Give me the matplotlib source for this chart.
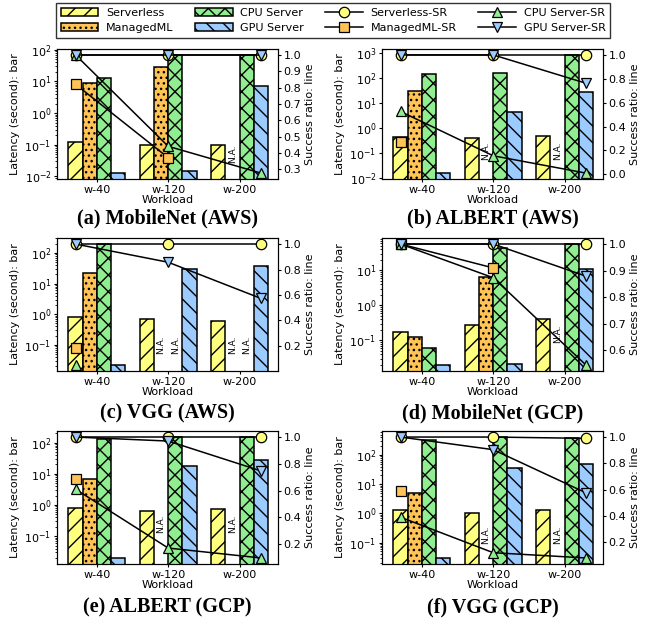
import numpy as np
import matplotlib
matplotlib.use('Agg')
import matplotlib.pyplot as plt
from matplotlib.patches import Patch
from matplotlib.lines import Line2D
from matplotlib.ticker import LogLocator, MultipleLocator

nan = np.nan

#%% data (latency in seconds, success ratio 0..1)
workloads = ['w-40', 'w-120', 'w-200']
titles = ['(a) MobileNet (AWS)', '(b) ALBERT (AWS)', '(c) VGG (AWS)',
          '(d) MobileNet (GCP)', '(e) ALBERT (GCP)', '(f) VGG (GCP)']
bar_names = ['Serverless', 'ManagedML', 'CPU Server', 'GPU Server']
sr_names = ['Serverless-SR', 'ManagedML-SR', 'CPU Server-SR', 'GPU Server-SR']

serverless = [[0.12, 0.10, 0.098], [0.46, 0.41, 0.49], [0.81, 0.68, 0.60],
              [0.18, 0.27, 0.41], [0.80, 0.66, 0.74], [1.32, 1.06, 1.28]]
managedml = [[8.9, 28, nan], [29.5, nan, nan], [22, nan, nan],
             [0.124, 6.7, nan], [6.8, nan, nan], [5.1, nan, nan]]
cpu = [[12.7, 69, 69], [150, 162, 850], [196, nan, nan],
       [0.062, 45, 57], [128, 150, 150], [318, 413, 372]]
gpu = [[0.0127, 0.0144, 7.3], [0.016, 4.3, 27.5], [0.022, 29, 39],
       [0.020, 0.022, 11], [0.020, 18, 28], [0.030, 37, 50]]

serverless_sr = [[1, 1, 1], [1, 1, 1], [1, 1, 1],
                 [1, 1, 1], [1, 1, 1], [1, 1, 0.99]]
managedml_sr = [[0.82, 0.37, nan], [0.27, nan, nan], [0.18, nan, nan],
                [1.0, 0.91, nan], [0.685, nan, nan], [0.59, nan, nan]]
cpu_sr = [[1.0, 0.44, 0.276], [0.526, 0.155, 0.01], [0.05, nan, nan],
          [1.0, 0.873, 0.544], [0.61, 0.17, 0.096], [0.39, 0.12, 0.08]]
gpu_sr = [[1, 1, 1], [1, 1, 0.763], [1.0, 0.857, 0.573],
          [1, 1, 0.879], [1.0, 0.97, 0.747], [1.0, 0.904, 0.576]]

# height where the "N.A." labels start in each panel
na_y = [0.026, 0.052, 0.05, 0.085, 0.13, 0.087]

#%% styles
colors = ['#ffff80', '#ffc455', '#90ee90', '#9ccbff']
hatches = ['//', '...', 'xx', '\\\\']
markers = ['o', 's', '^', 'v']
bar_w = 0.2
bar_off = [-0.3, -0.1, 0.1, 0.3]
line_off = [-0.3, 0.0, 0.3]
sr_step = [0.1, 0.2, 0.2, 0.1, 0.2, 0.2]

W, H = 652, 619
fig = plt.figure(figsize=(W / 100, H / 100), dpi=100)

cols = [(57, 278), (382, 603)]
rows = [(49, 179), (238, 371), (431, 564)]
title_y = [218, 413, 607]

bars_all = [serverless, managedml, cpu, gpu]
srs_all = [serverless_sr, managedml_sr, cpu_sr, gpu_sr]

x = np.arange(len(workloads))
for k in range(6):
    r, c = k // 2, k % 2
    x0, x1 = cols[c]
    y0, y1 = rows[r]
    ax = fig.add_axes([x0 / W, 1 - y1 / H, (x1 - x0) / W, (y1 - y0) / H])
    for j in range(4):
        vals = np.array(bars_all[j][k], dtype=float)
        ax.bar(x + bar_off[j], vals, bar_w, color=colors[j], hatch=hatches[j],
               edgecolor='black', linewidth=1.1)
        for i in range(3):
            if np.isnan(vals[i]):
                ax.text(x[i] + bar_off[j], na_y[k], 'N.A.', rotation=90,
                        ha='center', va='bottom', fontsize=6.5)
    ax.set_yscale('log')
    ax.yaxis.set_major_locator(LogLocator(base=10, numticks=20))
    ax.set_xticks(x)
    ax.set_xticklabels(workloads)
    ax.set_xlim(-0.56, 2.54)
    ax.set_xlabel('Workload', fontsize=8, labelpad=0.5)
    ax.set_ylabel('Latency (second): bar', fontsize=8, labelpad=3)
    ax.tick_params(axis='both', which='major', labelsize=8, length=2.5, pad=1.5)
    ax.tick_params(axis='y', which='minor', length=1.5)

    ax2 = ax.twinx()
    lx = x + np.array(line_off)
    for j in range(4):
        ax2.plot(lx, srs_all[j][k], color='black', linewidth=1.1,
                 marker=markers[j], markersize=7.5, markerfacecolor=colors[j],
                 markeredgecolor='black', markeredgewidth=0.9)
    ax2.yaxis.set_major_locator(MultipleLocator(sr_step[k]))
    ax2.set_ylabel('Success ratio: line', fontsize=8, labelpad=3)
    ax2.tick_params(axis='y', labelsize=8, length=2.5, pad=1.5)

    fig.text((x0 + x1) / 2 / W, 1 - title_y[r] / H, titles[k], ha='center',
             va='center', fontsize=14.5, fontweight='bold',
             family='Liberation Serif')

#%% shared legend on top
handles = [Patch(facecolor=colors[j], hatch=hatches[j], edgecolor='black',
                 linewidth=1.1) for j in range(4)]
handles += [Line2D([], [], color='black', linewidth=1.1, marker=markers[j],
                   markersize=7.5, markerfacecolor=colors[j],
                   markeredgecolor='black', markeredgewidth=0.9)
            for j in range(4)]
fig.legend(handles, bar_names + sr_names, loc='upper center', ncol=4,
           bbox_to_anchor=(333 / W, 1 - 3 / H), fontsize=8, fancybox=False,
           edgecolor='0.2', framealpha=1, handlelength=3.4, handletextpad=0.7,
           columnspacing=1.9, borderpad=0.45, labelspacing=0.45,
           borderaxespad=0)

fig.savefig('out.png', dpi=100)
